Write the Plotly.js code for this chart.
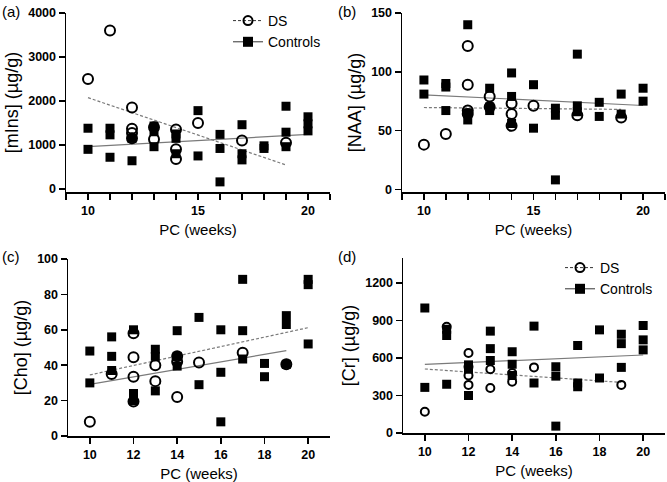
<!DOCTYPE html>
<html>
<head>
<meta charset="utf-8">
<script src="https://cdn.plot.ly/plotly-3.0.1.min.js"></script>
<style>
  html, body { margin: 0; padding: 0; background: #fff; }
  #chart { width: 667px; height: 482px; }
</style>
</head>
<body>
<div id="chart"></div>
<script>
// Canvas size in px
const W = 667;
const H = 482;

// (a) [mIns]
const aDsX = [10, 11, 12, 12, 12, 12, 13, 13, 14, 14, 14, 15, 17, 19];
const aDsY = [2500, 3600, 1850, 1370, 1270, 1150, 1400, 1130, 1350, 900, 680, 1500, 1100, 1050];
const aCtX = [10, 10, 11, 11, 11, 12, 12, 13, 13, 13, 14, 14, 14, 15, 15, 16, 16, 16, 17, 17, 17, 18, 18, 19, 19, 19, 20, 20, 20];
const aCtY = [1380, 900, 1380, 1230, 720, 1150, 640, 1430, 1300, 960, 1250, 1150, 800, 1780, 750, 1240, 920, 160, 1460, 800, 660, 980, 920, 1880, 1290, 960, 1640, 1480, 1320];
const aFitDsX = [10, 19], aFitDsY = [2075, 545];
const aFitCtX = [10, 20], aFitCtY = [960, 1240];

// (b) [NAA]
const bDsX = [10, 11, 12, 12, 12, 12, 13, 13, 14, 14, 14, 15, 17, 19];
const bDsY = [38, 47, 122, 89, 67, 64, 79, 70, 73, 64, 54, 71, 63, 61];
const bCtX = [10, 10, 11, 11, 11, 12, 12, 12, 13, 13, 13, 14, 14, 14, 15, 15, 16, 16, 16, 17, 17, 17, 18, 18, 19, 19, 20, 20];
const bCtY = [93, 81, 90, 87, 67, 140, 65, 59, 86, 70, 67, 99, 79, 56, 89, 52, 69, 63, 8, 115, 71, 66, 74, 62, 81, 64, 86, 75];
const bFitDsX = [10, 19], bFitDsY = [69.6, 68];
const bFitCtX = [10, 20], bFitCtY = [80.4, 71.3];

// (c) [Cho]
const cDsX = [10, 11, 12, 12, 12, 12, 13, 13, 14, 14, 14, 15, 17, 19];
const cDsY = [8, 35, 58, 44.5, 33.5, 19.5, 40, 31, 45, 42, 22, 41.5, 47, 40.5];
const cCtX = [10, 10, 11, 11, 11, 12, 12, 12, 13, 13, 13, 14, 14, 14, 15, 15, 16, 16, 16, 17, 17, 17, 18, 18, 19, 19, 19, 20, 20, 20];
const cCtY = [48, 30, 56, 45, 37, 60, 24, 20, 49, 45, 25.5, 59.5, 45, 39.5, 67, 29, 60, 36, 8, 88.5, 59.5, 43.5, 41, 33.5, 68, 63, 40.5, 88.5, 85.5, 52];
const cFitDsX = [10, 19], cFitDsY = [29.2, 48.2];
const cFitCtX = [10, 20], cFitCtY = [34.5, 61.2];

// (d) [Cr]
const dDsX = [10, 11, 12, 12, 12, 12, 13, 13, 14, 14, 15, 19];
const dDsY = [170, 850, 640, 530, 460, 385, 510, 360, 480, 410, 525, 385];
const dCtX = [10, 10, 11, 11, 11, 12, 12, 12, 13, 13, 13, 14, 14, 14, 15, 15, 16, 16, 16, 17, 17, 17, 18, 18, 19, 19, 19, 20, 20, 20];
const dCtY = [1000, 365, 830, 780, 390, 545, 510, 300, 815, 675, 580, 650, 550, 460, 855, 400, 530, 455, 55, 700, 400, 370, 825, 440, 790, 715, 525, 860, 745, 665];
const dFitDsX = [10, 19], dFitDsY = [512, 405];
const dFitCtX = [10, 20], dFitCtY = [549, 624];

// Axis labels
const yTitles = ['[mIns] (µg/g)', '[NAA] (µg/g)', '[Cho] (µg/g)', '[Cr] (µg/g)'];
const xTitle = 'PC (weeks)';
const panelLabels = ['(a)', '(b)', '(c)', '(d)'];
const seriesNames = ['DS', 'Controls'];
const xTickVals5 = [9, 10, 11, 12, 13, 14, 15, 16, 17, 18, 19, 20, 21];
const xTickText5 = ['', '10', '', '', '', '', '15', '', '', '', '', '20', ''];
const xTickVals2 = [10, 12, 14, 16, 18, 20];
const yTickVals = [[0, 1000, 2000, 3000, 4000], [0, 50, 100, 150], [0, 20, 40, 60, 80, 100], [0, 300, 600, 900, 1200]];

const FONT = 'Liberation Sans, Arial, sans-serif';
const FitColor = '#7a7a7a';

// Panel boxes in px: [left, right, top, bottom]
const boxes = [[66, 330, 13, 192], [402, 665, 13, 192], [68, 330, 259, 436], [403, 665, 258, 433]];
const yRanges = [[-70, 4000], [-2.3, 150], [0, 100], [0, 1400]];

const panels = [
    { ds: [aDsX, aDsY], ct: [aCtX, aCtY], fitDs: [aFitDsX, aFitDsY], fitCt: [aFitCtX, aFitCtY], dsDash: true, circle: 10 },
    { ds: [bDsX, bDsY], ct: [bCtX, bCtY], fitDs: [bFitDsX, bFitDsY], fitCt: [bFitCtX, bFitCtY], dsDash: true, circle: 10 },
    { ds: [cDsX, cDsY], ct: [cCtX, cCtY], fitDs: [cFitDsX, cFitDsY], fitCt: [cFitCtX, cFitCtY], dsDash: false, circle: 10 },
    { ds: [dDsX, dDsY], ct: [dCtX, dCtY], fitDs: [dFitDsX, dFitDsY], fitCt: [dFitCtX, dFitCtY], dsDash: true, circle: 8 },
];

var traces = [];
var layout = {
    width: W,
    height: H,
    margin: { l: 0, r: 0, t: 0, b: 0 },
    paper_bgcolor: '#fff',
    plot_bgcolor: 'rgba(0,0,0,0)',
    font: { family: FONT, color: '#000' },
    annotations: [],
};

panels.forEach((p, i) => {
    const n = i === 0 ? '' : String(i + 1);
    const xa = 'x' + n, ya = 'y' + n;
    const b = boxes[i];

    // fit lines
    traces.push({
        x: p.fitCt[0], y: p.fitCt[1], xaxis: xa, yaxis: ya, mode: 'lines', showlegend: false,
        line: { color: FitColor, width: 1.2, dash: p.dsDash ? 'solid' : '3px,2px' }, hoverinfo: 'none'
    });
    traces.push({
        x: p.fitDs[0], y: p.fitDs[1], xaxis: xa, yaxis: ya, mode: 'lines', showlegend: false,
        line: { color: FitColor, width: 1.2, dash: p.dsDash ? '3px,2px' : 'solid' }, hoverinfo: 'none'
    });
    // controls
    traces.push({
        x: p.ct[0], y: p.ct[1], xaxis: xa, yaxis: ya, mode: 'markers', showlegend: false,
        marker: { symbol: 'square', size: 9, color: '#000' }, hoverinfo: 'none'
    });
    // DS
    traces.push({
        x: p.ds[0], y: p.ds[1], xaxis: xa, yaxis: ya, mode: 'markers', showlegend: false,
        marker: { symbol: 'circle-open', size: p.circle, color: '#000', line: { width: 2, color: '#000' } }, hoverinfo: 'none'
    });

    const fiveTicks = i < 2;
    layout['xaxis' + n] = {
        domain: [b[0] / W, b[1] / W], range: [9, 21], anchor: ya,
        tickmode: 'array',
        tickvals: fiveTicks ? xTickVals5 : xTickVals2,
        ticktext: fiveTicks ? xTickText5 : xTickVals2.map(String),
        ticks: 'outside', ticklen: 6, tickwidth: 1.5, tickcolor: '#000',
        showline: true, linecolor: '#000', linewidth: 1.5,
        showgrid: false, zeroline: false,
        tickfont: { family: FONT, size: 12.5, weight: 'bold', color: '#000' },
        title: { text: xTitle, font: { family: FONT, size: 15, color: '#000' }, standoff: 8 },
    };
    layout['yaxis' + n] = {
        domain: [1 - b[3] / H, 1 - b[2] / H], range: yRanges[i], anchor: xa,
        tickmode: 'array', tickvals: yTickVals[i],
        ticks: 'outside', ticklen: 6, tickwidth: 1.5, tickcolor: '#000',
        showline: true, linecolor: '#000', linewidth: 1.5,
        showgrid: false, zeroline: false,
        tickfont: { family: FONT, size: 12.5, weight: 'bold', color: '#000' },
        title: { text: yTitles[i], font: { family: FONT, size: 18, color: '#000' }, standoff: 5 },
    };

    layout.annotations.push({
        text: panelLabels[i], xref: 'paper', yref: 'paper',
        x: (i % 2 === 0 ? 0 : 336) / W, y: 1 - (i < 2 ? 1 : 246) / H,
        xanchor: 'left', yanchor: 'top', showarrow: false,
        font: { family: FONT, size: 15, color: '#000' }
    });
});

// legend entries for panels (a) and (d)
[['x', 'y', 'legend'], ['x4', 'y4', 'legend2']].forEach(([xa, ya, lg]) => {
    traces.push({
        x: [null], y: [null], xaxis: xa, yaxis: ya, name: seriesNames[0], legend: lg,
        mode: 'lines+markers', line: { color: '#333', width: 1, dash: '3px,2px' },
        marker: { symbol: 'circle-open', size: 9, color: '#000', line: { width: 2 } }
    });
    traces.push({
        x: [null], y: [null], xaxis: xa, yaxis: ya, name: seriesNames[1], legend: lg,
        mode: 'lines+markers', line: { color: '#333', width: 1 },
        marker: { symbol: 'square', size: 10, color: '#000' }
    });
});

const legendStyle = {
    bgcolor: 'rgba(0,0,0,0)', xanchor: 'left', yanchor: 'top',
    font: { family: FONT, size: 14, color: '#000' }, itemwidth: 30, tracegroupgap: 0,
};
layout.legend = Object.assign({ x: 228 / W, y: 1 - 5 / H }, legendStyle);
layout.legend2 = Object.assign({ x: 560 / W, y: 1 - 252 / H }, legendStyle);

Plotly.newPlot('chart', traces, layout, { displayModeBar: false, staticPlot: true });
</script>
</body>
</html>
